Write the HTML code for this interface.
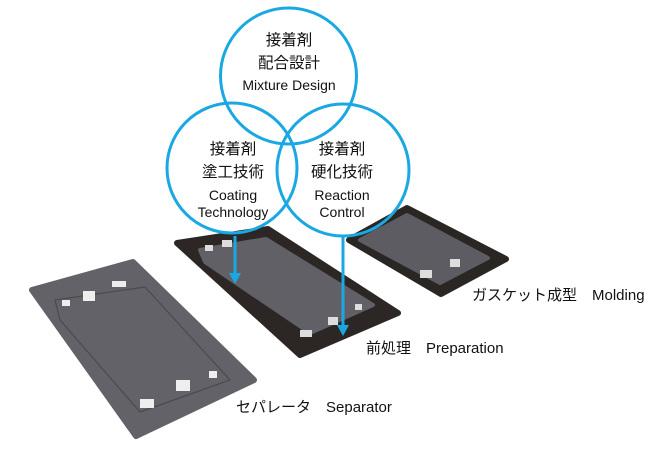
<!DOCTYPE html>
<html><head><meta charset="utf-8"><style>
html,body{margin:0;padding:0;background:#fff;}
svg{display:block}
text{font-family:"Liberation Sans","Noto Sans CJK JP",sans-serif;fill:#111;}
</style></head><body>
<svg width="661" height="454" viewBox="0 0 661 454" xmlns="http://www.w3.org/2000/svg">
<!-- Molding plate -->
<polygon points="349,240 407,208 506,259 441,294" fill="#2a2624" stroke="#2a2624" stroke-width="6" stroke-linejoin="round"/>
<polygon points="360,240 407,215 488,258 440,283" fill="#5c5c62" stroke="#5c5c62" stroke-width="4" stroke-linejoin="round"/>
<rect x="420" y="270" width="12" height="8" fill="#ddd"/><rect x="450" y="259" width="10" height="8" fill="#ddd"/>
<!-- Preparation plate -->
<polygon points="177,243 268,229 398,313 300,355" fill="#2c2725" stroke="#2c2725" stroke-width="6" stroke-linejoin="round"/>
<polygon points="200,250 266,239 373,305 310,333 205,262" fill="#606066" stroke="#606066" stroke-width="4" stroke-linejoin="round"/>
<rect x="205" y="245" width="8" height="6" fill="#ddd"/><rect x="222" y="240" width="10" height="7" fill="#ddd"/>
<rect x="300" y="330" width="12" height="7" fill="#ddd"/><rect x="328" y="317" width="10" height="8" fill="#ddd"/><rect x="355" y="304" width="7" height="6" fill="#ddd"/>
<!-- Separator plate -->
<polygon points="32,290 133,262 254,380 136,436" fill="#626268" stroke="#626268" stroke-width="6" stroke-linejoin="round"/>
<polygon points="55,300 145,287 230,380 140,412 60,320" fill="none" stroke="#4a4a50" stroke-width="1.2"/>
<rect x="83" y="291" width="12" height="10" fill="#eee"/><rect x="112" y="281" width="14" height="6" fill="#eee"/><rect x="62" y="300" width="8" height="6" fill="#eee"/>
<rect x="176" y="380" width="14" height="11" fill="#eee"/><rect x="140" y="399" width="14" height="9" fill="#eee"/><rect x="209" y="371" width="8" height="7" fill="#eee"/>
<!-- Circles -->
<g fill="none" stroke="#1ba8e2" stroke-width="3">
<circle cx="288.5" cy="76" r="68"/>
<circle cx="232" cy="168" r="65"/>
<circle cx="343" cy="170" r="66"/>
</g>
<!-- arrows -->
<g stroke="#1ba8e2" stroke-width="3"><line x1="235" y1="236" x2="235" y2="274"/><line x1="343" y1="236" x2="343" y2="326"/></g>
<polygon points="229,273 241,273 235,284" fill="#1ba8e2"/>
<polygon points="337,325 349,325 343,336" fill="#1ba8e2"/>
<!-- circle text -->
<g text-anchor="middle" font-size="15.5">
<text x="289" y="45">接着剤</text>
<text x="289" y="68">配合設計</text>
<text x="289" y="90" font-size="14">Mixture Design</text>
<text x="233" y="154">接着剤</text>
<text x="233" y="177">塗工技術</text>
<text x="233" y="200" font-size="14">Coating</text>
<text x="233" y="217" font-size="14">Technology</text>
<text x="342" y="154">接着剤</text>
<text x="342" y="177">硬化技術</text>
<text x="342" y="200" font-size="14">Reaction</text>
<text x="342" y="217" font-size="14">Control</text>
</g>
<g font-size="15">
<text x="472" y="300">ガスケット成型　Molding</text>
<text x="366" y="353">前処理　Preparation</text>
<text x="236" y="412">セパレータ　Separator</text>
</g>
</svg>
</body></html>
